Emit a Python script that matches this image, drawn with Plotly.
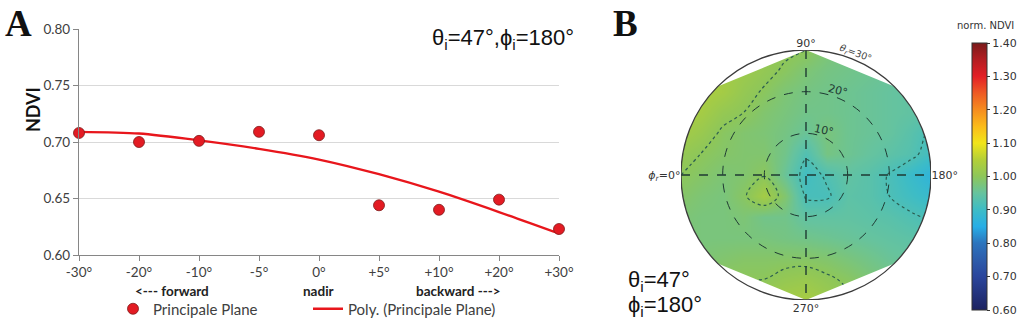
import numpy as np
import plotly.graph_objects as go

W, H = 1024, 325

# ---------------- Panel A data ----------------
view_angles = ["-30°", "-20°", "-10°", "-5°", "0°", "+5°", "+10°", "+20°", "+30°"]
ndvi_principal = [0.708, 0.700, 0.701, 0.709, 0.706, 0.644, 0.640, 0.649, 0.623]
ndvi_poly_fit = [0.709, 0.7075, 0.7015, 0.694, 0.6845, 0.6715, 0.656, 0.638, 0.619]
ndvi_ticks = [0.60, 0.65, 0.70, 0.75, 0.80]

# ---------------- Panel B data ----------------
# grid of view positions (theta_r in degrees, projected: x to the right, y up)
grid_x = [-30, -25, -20, -15, -10, -5, 0, 5, 10, 15, 20, 25, 30]
grid_y = [30, 25, 20, 15, 10, 5, 0, -5, -10, -15, -20, -25, -30]
norm_ndvi = [
    [1.05, 1.04, 1.03, 1.02, 1.01, 1.005, 1.00, 0.98, 0.97, 0.965, 0.96, 0.955, 0.95],
    [1.05, 1.04, 1.03, 1.02, 1.008, 0.996, 0.98, 0.97, 0.965, 0.96, 0.955, 0.95, 0.945],
    [1.05, 1.04, 1.03, 1.01, 0.997, 0.98, 0.97, 0.965, 0.96, 0.955, 0.95, 0.945, 0.94],
    [1.04, 1.03, 1.01, 1.00, 0.985, 0.975, 0.965, 0.965, 0.96, 0.955, 0.95, 0.945, 0.94],
    [1.03, 1.015, 0.995, 0.985, 0.98, 0.97, 0.955, 0.975, 0.96, 0.955, 0.95, 0.935, 0.915],
    [1.01, 0.999, 0.99, 0.985, 0.985, 0.965, 0.925, 0.97, 0.96, 0.95, 0.94, 0.93, 0.905],
    [1.00, 0.99, 0.98, 0.985, 0.998, 0.955, 0.905, 0.925, 0.945, 0.935, 0.918, 0.895, 0.87],
    [0.99, 0.98, 0.975, 0.995, 1.03, 0.985, 0.915, 0.915, 0.94, 0.935, 0.92, 0.905, 0.89],
    [0.98, 0.975, 0.975, 0.98, 0.965, 0.965, 0.945, 0.945, 0.945, 0.94, 0.935, 0.925, 0.915],
    [0.98, 0.975, 0.975, 0.975, 0.975, 0.97, 0.965, 0.96, 0.955, 0.95, 0.945, 0.94, 0.935],
    [0.98, 0.98, 0.985, 0.99, 0.99, 0.99, 0.99, 0.985, 0.975, 0.965, 0.955, 0.95, 0.945],
    [0.99, 0.995, 1.00, 1.00, 1.00, 1.01, 1.015, 1.005, 0.995, 0.98, 0.97, 0.96, 0.955],
    [1.00, 1.00, 1.01, 1.015, 1.02, 1.03, 1.035, 1.02, 1.005, 0.99, 0.975, 0.965, 0.96],
]
cbar_ticks = [0.60, 0.70, 0.80, 0.90, 1.00, 1.10, 1.20, 1.30, 1.40]
cbar_labels = ["0.60", "0.70", "0.80", "0.90", "1.00", "1.10", "1.20", "1.30", "1.40"]
azimuth_ticks = [0, 45, 90, 135, 180, 225, 270, 315]
azimuth_labels = ["<i>ϕ<sub>r</sub></i>=0°", "45°", "90°", "135°", "180°", "225°", "270°", "315°"]
zenith_rings = [10, 20]
zenith_max = 30

colorscale = [
    [0.0, "#1c2260"], [0.125, "#2a459c"], [0.1875, "#2d5cab"], [0.25, "#2c74bd"],
    [0.3125, "#27aee6"], [0.375, "#3dbcc6"], [0.4375, "#66c39e"], [0.5, "#8dc65a"],
    [0.5625, "#b3cf38"], [0.625, "#f1e519"], [0.6875, "#fbbb1a"], [0.75, "#f58c1f"],
    [0.8125, "#ee5a24"], [0.875, "#e31f26"], [0.9375, "#b31d22"], [1.0, "#7a1a1a"],
]


def px(x):
    return x / W


def py(y):
    return 1 - y / H


fig = go.Figure()

# ---------- Panel A ----------
fig.add_trace(go.Scatter(
    x=view_angles, y=ndvi_poly_fit, mode="lines", name="Poly. (Principale Plane)",
    line=dict(color="#e8161c", width=2.3, shape="spline", smoothing=0.8),
    legendrank=2, xaxis="x", yaxis="y", cliponaxis=False,
))
fig.add_trace(go.Scatter(
    x=view_angles, y=ndvi_principal, mode="markers", name="Principale Plane",
    marker=dict(color="#e31b23", size=11, line=dict(color="#7d1a1a", width=0.8)),
    legendrank=1, xaxis="x", yaxis="y", cliponaxis=False,
))

# ---------- Panel B ----------
fig.add_trace(go.Heatmap(
    x=grid_x, y=grid_y, z=norm_ndvi, zsmooth="best", colorscale=colorscale,
    zmin=0.6, zmax=1.4, xaxis="x2", yaxis="y2", hoverinfo="skip",
    colorbar=dict(
        x=px(972), xanchor="left", y=py(176.5), yanchor="middle",
        len=267 / H, lenmode="fraction", thickness=15, thicknessmode="pixels",
        xpad=0, ypad=0, outlinewidth=1, outlinecolor="#333333",
        tickmode="array", tickvals=cbar_ticks, ticktext=cbar_labels,
        ticks="outside", ticklen=3, tickcolor="#333333",
        tickfont=dict(family="DejaVu Sans", size=11, color="#333333"),
    ),
))
fig.add_trace(go.Contour(
    x=grid_x, y=grid_y, z=norm_ndvi, autocontour=False,
    contours=dict(coloring="none", start=0.92, end=1.001, size=0.08),
    line=dict(color="#2b5d50", dash="dot", width=1.2),
    showscale=False, xaxis="x2", yaxis="y2", hoverinfo="skip", showlegend=False,
))

# dashed crosshair of the polar plot
for a0, a1 in [(0, 180), (90, 270)]:
    fig.add_trace(go.Scatterpolar(
        r=[zenith_max, zenith_max], theta=[a0, a1], mode="lines",
        line=dict(color="#1f3a33", width=1.4, dash="dash"),
        showlegend=False, hoverinfo="skip", subplot="polar",
    ))

# mask outside the measured octagon-like footprint
R = zenith_max


def pol2xy(phi, r):
    a = np.deg2rad(phi)
    return -r * np.cos(a), r * np.sin(a)


phis = list(np.arange(-45, 45.01, 3)) + [90] + list(np.arange(135, 225.01, 3)) + [270]
pts = [pol2xy(p, R) for p in phis]
inner = "M " + " L ".join(f"{x:.3f},{y:.3f}" for x, y in pts) + " Z"
e = R + 0.6
outer = f"M {-e},{-e} L {e},{-e} L {e},{e} L {-e},{e} Z"
fig.add_shape(type="path", path=outer + " " + inner, xref="x2", yref="y2",
              fillcolor="white", line=dict(width=0), layer="above")
fig.add_shape(type="circle", x0=-R, y0=-R, x1=R, y1=R, xref="x2", yref="y2",
              line=dict(color="#3c3c3c", width=1.3), layer="above")

dom_x = [px(681), px(931)]
dom_y = [py(300), py(50)]

fig.update_layout(
    width=W, height=H, margin=dict(l=0, r=0, t=0, b=0, autoexpand=False),
    paper_bgcolor="white", plot_bgcolor="white",
    xaxis=dict(domain=[px(79), px(559)], type="category", range=[0, 8], automargin=False,
               showgrid=False, showline=True, linecolor="#868686", linewidth=1.2,
               ticks="outside", ticklen=5, tickcolor="#868686",
               tickfont=dict(family="Lato", size=13.5, color="#404040"), anchor="y"),
    yaxis=dict(domain=[py(255), py(29)], range=[0.6, 0.8], tickvals=ndvi_ticks, automargin=False,
               tickformat=".2f", showgrid=True, gridcolor="#d9d9d9", zeroline=False,
               showline=True, linecolor="#868686", linewidth=1.2, ticks="outside",
               ticklen=5, tickcolor="#868686",
               tickfont=dict(family="Lato", size=13.5, color="#404040"), anchor="x"),
    xaxis2=dict(domain=dom_x, range=[-R, R], visible=False, anchor="y2", automargin=False),
    yaxis2=dict(domain=dom_y, range=[-R, R], visible=False, anchor="x2", automargin=False),
    polar=dict(
        domain=dict(x=dom_x, y=dom_y), bgcolor="rgba(0,0,0,0)",
        angularaxis=dict(rotation=180, direction="clockwise", tickvals=azimuth_ticks,
                         ticktext=azimuth_labels, showgrid=False, showline=False,
                         ticks="", tickfont=dict(family="DejaVu Sans", size=11, color="#333333")),
        radialaxis=dict(range=[0, zenith_max], tickvals=zenith_rings, showticklabels=False,
                        showgrid=True, griddash="dash", gridcolor="#1f3a33", gridwidth=1.4,
                        showline=False, ticks=""),
    ),
    legend=dict(orientation="h", x=px(113), y=py(309), xanchor="left", yanchor="middle",
                font=dict(family="Lato", size=15, color="#404040"),
                entrywidth=150, entrywidthmode="pixels", bgcolor="rgba(0,0,0,0)"),
    showlegend=True,
)

ann = []
ann.append(dict(text="<b>A</b>", x=px(3), y=py(23), xanchor="left",
                font=dict(family="Liberation Serif", size=37, color="#111111")))
ann.append(dict(text="<b>B</b>", x=px(611), y=py(23), xanchor="left",
                font=dict(family="Liberation Serif", size=37, color="#111111")))
ann.append(dict(text="<b>NDVI</b>", x=px(33), y=py(110), textangle=-90,
                font=dict(family="Lato", size=18, color="#111111")))
for t, xc in [("<b>&lt;--- forward</b>", 172), ("<b>nadir</b>", 318), ("<b>backward ---&gt;</b>", 458)]:
    ann.append(dict(text=t, x=px(xc), y=py(291), font=dict(family="Lato", size=13.5, color="#222222")))
ann.append(dict(text="θ<sub>i</sub>=47°,ϕ<sub>i</sub>=180°", x=px(430), y=py(39), xanchor="left",
                font=dict(family="Liberation Sans", size=22, color="#111111")))
ann.append(dict(text="θ<sub>i</sub>=47°", x=px(626), y=py(281), xanchor="left",
                font=dict(family="Liberation Sans", size=22, color="#111111")))
ann.append(dict(text="ϕ<sub>i</sub>=180°", x=px(626), y=py(306), xanchor="left",
                font=dict(family="Liberation Sans", size=22, color="#111111")))
ann.append(dict(text="norm. NDVI", x=px(985), y=py(26),
                font=dict(family="DejaVu Sans", size=10, color="#333333")))
ann.append(dict(text="<i>θ<sub>r</sub></i>=30°", x=px(855), y=py(53), textangle=20,
                font=dict(family="DejaVu Sans", size=9.5, color="#444444")))
# zenith ring labels
for txt, xx, yy, sz, col, ang in [("10°", 4.3, 10.6, 11, "#1f3a33", 12),
                                   ("20°", 7.6, 20.2, 11, "#1f3a33", 15)]:
    ann.append(dict(text=txt, x=xx, y=yy, xref="x2", yref="y2", textangle=ang,
                    font=dict(family="DejaVu Sans", size=sz, color=col)))
for a in ann:
    a.setdefault("xref", "paper")
    a.setdefault("yref", "paper")
    a.setdefault("xanchor", "center")
    a.setdefault("yanchor", "middle")
    a["showarrow"] = False
fig.update_layout(annotations=ann)

fig.write_html("out.html", config={"displayModeBar": False},
               post_script="document.body.style.margin='0px';")
